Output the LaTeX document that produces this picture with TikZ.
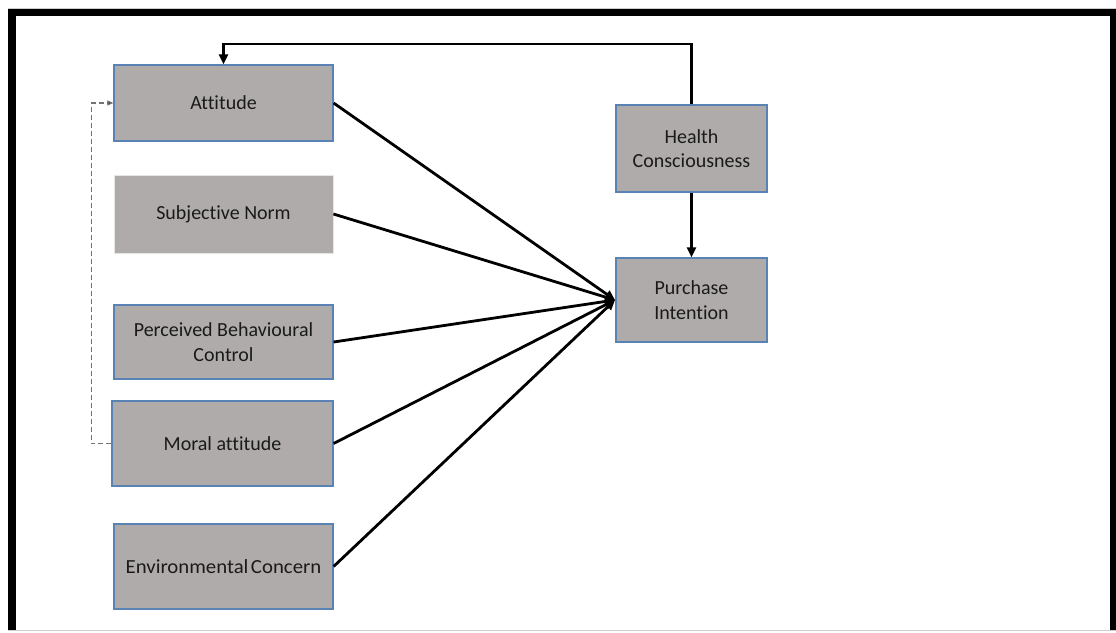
\documentclass[tikz,border=0pt]{standalone}
\usepackage{fontspec}
\setmainfont[Ligatures=NoCommon]{Carlito}
\usetikzlibrary{arrows.meta}
\definecolor{boxgray}{HTML}{AFABAB}
\definecolor{boxblue}{HTML}{5A83B5}
\definecolor{txt}{HTML}{1A1A1A}
\begin{document}
\begin{tikzpicture}[x=1pt,y=-1pt,
  box/.style={draw=boxblue,line width=1.2pt,fill=boxgray,minimum width=219pt,inner sep=2pt,align=center,
    text=txt,font=\fontsize{20}{24.5}\selectfont},
  flow/.style={line width=2.8pt,-{Triangle[length=10pt,width=9pt]}},
  dashline/.style={draw=gray!90!black,line width=1.1pt,dash pattern=on 5pt off 3pt,-{Triangle[length=6pt,width=5pt,fill=black!80]}}]
\useasboundingbox (0,0) rectangle (1116,632);
\fill[white] (0,0) rectangle (1116,632);
% frame
\draw[gray!40,line width=1pt] (8,8) -- (1116,8);
\draw[gray!40,line width=1pt] (8,630.5) -- (1116,630.5);
\fill[black] (8,9) rectangle (1116,16);
\fill[black] (8,9) rectangle (16,630);
\fill[black] (1110,9) rectangle (1116,630);
% nodes
\node[box,minimum height=76pt] (att) at (223.5,103) {Attitude};
\node[box,draw=gray!20,line width=0.8pt,minimum height=78pt] (sn) at (223.5,214) {Subjective Norm};
\node[box,minimum height=74pt] (pbc) at (223.5,342) {Perceived Behavioural\\Control};
\node[box,minimum width=221pt,minimum height=85pt] (ma) at (222.5,443.5) {Moral attitude};
\node[box,minimum height=85pt] (ec) at (223.5,566.5) {\scalebox{1.04}[1]{Environmental\hspace{0.12em}Concern}};
\node[box,minimum width=151pt,minimum height=87pt] (hc) at (691.5,148.5) {Health\\Consciousness};
\node[box,minimum width=151pt,minimum height=84pt] (pi) at (691.5,300) {Purchase\\Intention};
\coordinate (tip) at (615,300);
\coordinate (turn) at (223.5,44);
% connectors
\foreach \n in {att,sn,pbc,ma,ec}{
  \draw[flow] (\n.east) -- (tip);
}
\draw[flow] (hc.south) -- (pi.north);
\draw[flow] (hc.north) |- (turn) -- (att.north);
\draw[dashline] (ma.west) -- ++(-20,0) |- (att.west);
\end{tikzpicture}
\end{document}
